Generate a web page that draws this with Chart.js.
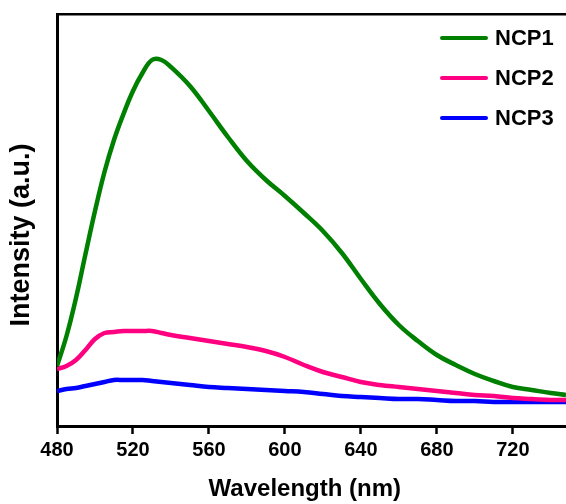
<!DOCTYPE html>
<html>
<head>
<meta charset="utf-8">
<title>Emission spectra</title>
<script src="https://cdn.jsdelivr.net/npm/chart.js@4.4.1/dist/chart.umd.min.js"></script>
<style>
  html, body { margin: 0; padding: 0; background: #fff; }
  #wrap { width: 566px; height: 504px; }
</style>
</head>
<body>
<div id="wrap"><canvas id="Chart" width="566" height="504"></canvas></div>
<script>
// emission spectra, intensity in arbitrary units
const wavelength = [480, 485, 490, 495, 500, 505, 510, 515, 520, 525, 530, 535, 540, 550, 560, 570, 580, 590,
  600, 610, 620, 630, 640, 650, 660, 670, 680, 690, 700, 710, 720, 730, 740, 748];
const ncp1 = [60, 90, 128, 172, 215, 254, 286, 312, 335, 353, 366, 366, 359, 340, 315, 289, 265, 246,
  230, 213, 195, 173, 147, 122, 101, 85, 71, 61, 52, 45, 39, 36, 33, 31];
const ncp2 = [57, 60, 66, 76, 87, 93, 94, 95, 95, 95, 95, 93, 91, 88, 85, 82, 79, 75,
  69, 61, 54, 49, 44, 41, 39, 37, 35, 33, 31, 30, 28, 27, 26, 26];
const ncp3 = [35, 37, 38, 40, 42, 44, 46, 46, 46, 46, 45, 44, 43, 41, 39, 38, 37, 36,
  35, 34, 32, 30, 29, 28, 27, 27, 26, 25, 25, 24, 24, 24, 24, 24];
const xTicks = [480, 520, 560, 600, 640, 680, 720];

const FONT = '"Liberation Sans", Arial, Helvetica, sans-serif';

function points(vals) {
  return wavelength.map((w, i) => ({ x: w, y: vals[i] }));
}

function series(label, vals, color) {
  return {
    label: label,
    data: points(vals),
    borderColor: color,
    backgroundColor: color,
    borderWidth: 4.5,
    pointRadius: 0,
    tension: 0.4,
    fill: false
  };
}

// legend sits inside the plot, top right
const plotLegend = {
  id: 'plotLegend',
  afterDatasetsDraw(chart) {
    const ctx = chart.ctx;
    const area = chart.chartArea;
    ctx.save();
    ctx.font = 'bold 22px ' + FONT;
    ctx.textBaseline = 'middle';
    ctx.textAlign = 'left';
    chart.data.datasets.forEach((ds, i) => {
      const y = area.top + 24 + i * 40;
      const x0 = area.right - 124;
      ctx.strokeStyle = ds.borderColor;
      ctx.lineWidth = 4;
      ctx.lineCap = 'round';
      ctx.beginPath();
      ctx.moveTo(x0, y);
      ctx.lineTo(x0 + 44, y);
      ctx.stroke();
      ctx.fillStyle = '#000';
      ctx.fillText(ds.label, x0 + 53, y + 1);
    });
    ctx.restore();
  }
};

const ctx = document.getElementById('Chart').getContext('2d');
const myChart = new Chart(ctx, {
  type: 'line',
  data: {
    datasets: [
      series('NCP1', ncp1, '#008000'),
      series('NCP2', ncp2, '#ff0080'),
      series('NCP3', ncp3, '#0000ff')
    ]
  },
  options: {
    responsive: false,
    animation: false,
    layout: { padding: 0 },
    plugins: {
      legend: { display: false },
      tooltip: { enabled: false }
    },
    scales: {
      x: {
        type: 'linear',
        position: 'bottom',
        min: 480,
        max: 748,
        afterBuildTicks: (scale) => { scale.ticks = xTicks.map(v => ({ value: v })); },
        ticks: {
          color: '#000',
          font: { family: FONT, size: 20, weight: 'bold' },
          padding: 4,
          maxRotation: 0
        },
        grid: {
          drawOnChartArea: false,
          drawTicks: true,
          tickLength: 8,
          tickWidth: 2.5,
          tickColor: '#000'
        },
        border: { display: true, color: '#000', width: 3 },
        title: {
          display: true,
          // trailing spaces nudge the centred title a little to the left
          text: 'Wavelength (nm)  ',
          color: '#000',
          font: { family: FONT, size: 24, weight: 'bold', lineHeight: 1 },
          padding: { top: 0, bottom: 3 }
        },
        afterFit: (scale) => { scale.height = 78; }
      },
      top: {
        type: 'linear',
        position: 'top',
        min: 480,
        max: 748,
        ticks: { display: false },
        grid: { display: false },
        border: { display: true, color: '#000', width: 2.5 },
        afterFit: (scale) => { scale.height = 14; }
      },
      y: {
        min: 0,
        max: 412,
        ticks: { display: false },
        grid: { display: false },
        border: { display: true, color: '#000', width: 3 },
        title: {
          display: true,
          // trailing spaces push the rotated title slightly down
          text: 'Intensity (a.u.)    ',
          color: '#000',
          font: { family: FONT, size: 27, weight: 'bold', lineHeight: 1 },
          padding: { top: 8, bottom: 0 }
        },
        afterFit: (scale) => { scale.width = 57; }
      }
    }
  },
  plugins: [plotLegend]
});
</script>
</body>
</html>
